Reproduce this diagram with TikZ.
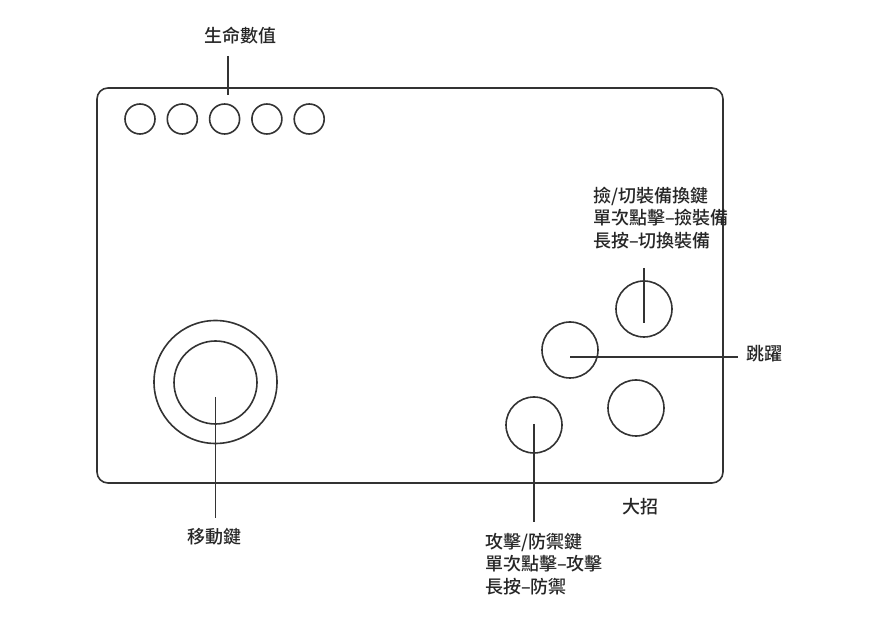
\documentclass[tikz,border=0pt]{standalone}
\usepackage{fontspec}
\newfontfamily\cjk{Noto Sans CJK TC Medium}
\begin{document}
\begin{tikzpicture}[x=1pt,y=-1pt,
  ln/.style={draw=black!80,line width=1.6pt},
  btn/.style={circle,draw=black!80,line width=1.6pt,inner sep=0pt,minimum size=56pt},
  hp/.style={circle,draw=black!80,line width=1.6pt,inner sep=0pt,minimum size=30pt},
  lbl/.style={font=\cjk\fontsize{18}{22.5}\selectfont,inner sep=0pt,text=black!85},
  blk/.style={lbl,align=left,anchor=west}]
\useasboundingbox (0,0) rectangle (879,620);
% frame
\draw[ln,rounded corners=11pt] (97,88) rectangle (723,483);
% health
\foreach \i/\x in {1/140,2/182.3,3/224.6,4/266.9,5/309.2}
  \node[hp] (h\i) at (\x,119) {};
\node[lbl] (hpl) at (240,36) {生命數值};
\coordinate (hpa) at (228,56);
\coordinate (hpb) at (228,95);
\draw[ln] (hpa) -- (hpb);
% joystick
\node[circle,draw=black!80,line width=1.6pt,minimum size=123pt,inner sep=0pt] (jo) at (215.5,382) {};
\node[circle,draw=black!80,line width=1.6pt,minimum size=83pt,inner sep=0pt] (ji) at (215.5,382.5) {};
\coordinate (jc) at (215.5,397);
\node[lbl] (mv) at (214.5,537) {移動鍵};
\coordinate (mve) at (215.5,518);
\draw[ln] (jc) -- (mve);
% buttons
\node[btn] (sw) at (644,309) {};
\node[btn] (jp) at (570,350) {};
\node[btn] (ul) at (636,408) {};
\node[btn] (at) at (534,425) {};
% equip label
\node[blk] (eql) at (593,218) {撿/切裝備換鍵\\單次點擊–撿裝備\\長按–切換裝備};
\coordinate (swt) at (644,268);
\coordinate (swc) at (644,323);
\draw[ln] (swt) -- (swc);
% jump
\node[lbl,anchor=west] (jpl) at (746,354) {跳躍};
\coordinate (jpc) at (570,357);
\coordinate (jpe) at (738,357);
\draw[ln] (jpc) -- (jpe);
% ult
\node[lbl] (ull) at (640,507) {大招};
% attack
\node[blk] (atl) at (485,564) {攻擊/防禦鍵\\單次點擊–攻擊\\長按–防禦};
\coordinate (atc) at (534,424);
\coordinate (ate) at (534,522);
\draw[ln] (atc) -- (ate);
\end{tikzpicture}
\end{document}
